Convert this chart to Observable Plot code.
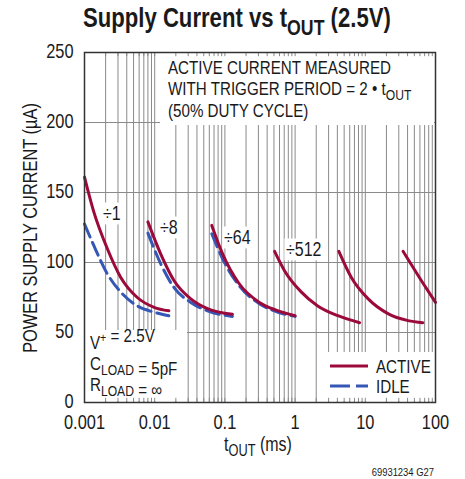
<!DOCTYPE html>
<html><head><meta charset="utf-8">
<script src="https://cdn.jsdelivr.net/npm/d3@7"></script>
<script src="https://cdn.jsdelivr.net/npm/@observablehq/plot@0.6"></script>
<style>body{margin:0;background:#fff} svg{display:block}</style>
</head><body><div id="chart"></div>
<script>
const FONT = '"Liberation Sans", Arial, Helvetica, sans-serif';
const SQ = 0.82; // horizontal squeeze to imitate a narrow face

// tick values / labels
const xTicks = [0.001, 0.01, 0.1, 1, 10, 100];
const xTickLabels = ["0.001", "0.01", "0.1", "1", "10", "100"];
const yTicks = [0, 50, 100, 150, 200, 250];
const yGrid = [50, 100, 150, 200];

// ÷1
const d1T = [0.001, 0.00136, 0.00211, 0.00327, 0.00565, 0.0098, 0.0159];
const d1Active = [161, 136, 110, 89.5, 75, 68, 65.5];
const d1Idle = [127.5, 112, 92, 79, 69, 64.5, 62];
// ÷8
const d8T = [0.008, 0.0122, 0.0189, 0.0327, 0.0565, 0.128];
const d8Active = [129, 106, 87, 74, 67, 63];
const d8Idle = [121, 99, 82, 71.5, 65.5, 61.5];
// ÷64
const d64T = [0.065, 0.093, 0.159, 0.31, 0.535, 1.0];
const d64Active = [126.5, 106, 85, 71.5, 66, 62];
const d64Idle = [120.5, 102.5, 83.5, 70.5, 65, 61.5];
// ÷512
const d512T = [0.51, 0.71, 1.22, 2.1, 4.07, 8.3];
const d512Active = [108, 94, 79, 69, 62, 57];
// ÷4096
const d4096T = [4.2, 6.3, 11, 21, 40.6, 66];
const d4096Active = [108, 89.5, 74, 63.5, 58.5, 57];
// ÷32768
const d32768T = [34.5, 63, 100];
const d32768Active = [108, 87, 71.5];

const ACTIVE = "#9c0a3b", IDLE = "#3557b5", GRID = "#8a8a8a";

function rows(ts, vs, seg) { return ts.map((t, k) => ({t, i: vs[k], seg})); }
const activeRows = [
  ...rows(d1T, d1Active, "1"), ...rows(d8T, d8Active, "8"), ...rows(d64T, d64Active, "64"),
  ...rows(d512T, d512Active, "512"), ...rows(d4096T, d4096Active, "4096"), ...rows(d32768T, d32768Active, "32768")
];
const idleRows = [...rows(d1T, d1Idle, "1"), ...rows(d8T, d8Idle, "8"), ...rows(d64T, d64Idle, "64")];

const minor = [];
for (let e = -3; e < 2; e++) for (let m = 1; m < 10; m++) minor.push(+(m * 10 ** e).toPrecision(3));
minor.push(100);

const xLabelOf = d => xTickLabels[xTicks.findIndex(v => Math.abs(Math.log10(v) - Math.log10(d)) < 1e-6)];

const plot = Plot.plot({
  width: 465, height: 479,
  marginLeft: 84, marginRight: 30, marginTop: 52, marginBottom: 77,
  style: {fontFamily: FONT, fontSize: "20px", color: "#1a1a1a", background: "#fff"},
  x: {type: "log", domain: [0.001, 100]},
  y: {domain: [0, 250]},
  marks: [
    Plot.ruleX(minor, {stroke: GRID, strokeWidth: 1, strokeOpacity: 1}),
    Plot.ruleY(yGrid, {stroke: GRID, strokeWidth: 1, strokeOpacity: 1}),
    Plot.line(idleRows, {x: "t", y: "i", z: "seg", stroke: IDLE, strokeWidth: 3, strokeDasharray: "14,6", curve: "monotone-x"}),
    Plot.line(activeRows, {x: "t", y: "i", z: "seg", stroke: ACTIVE, strokeWidth: 3, curve: "monotone-x"}),
    Plot.ruleX(minor, {y1: 0, y2: 3, stroke: GRID, strokeWidth: 1, strokeOpacity: 1}),
    Plot.ruleX(minor, {y1: 247, y2: 250, stroke: GRID, strokeWidth: 1, strokeOpacity: 1}),
    Plot.frame({stroke: "#333", strokeWidth: 1.5}),
    Plot.axisX(xTicks, {tickSize: 0, tickPadding: 12, tickFormat: xLabelOf, label: null, fontSize: 20}),
    Plot.axisY(yTicks, {tickSize: 0, tickPadding: 11, label: null, fontSize: 20, dy: -1})
  ]
});
document.getElementById("chart").appendChild(plot);

// squeeze axis tick labels
plot.querySelectorAll('g[aria-label$="tick label"] text').forEach(n => {
  n.setAttribute("transform", (n.getAttribute("transform") || "") + ` scale(${SQ},1)`);
});

const svg = d3.select(plot);
const xs = plot.scale("x"), ys = plot.scale("y");
const X0 = xs.range[0], X1 = xs.range[1], Y0 = ys.range[0], Y1 = ys.range[1];

// white boxes (under curves, above grid)
const firstLine = plot.querySelector('g[aria-label="line"]');
const boxG = d3.select(plot.insertBefore(document.createElementNS("http://www.w3.org/2000/svg", "g"), firstLine));
const boxes = [
  [160, Y1 + 1, X1 - 1, 125],
  [X0 + 1, 330, 187, Y0 - 1],
  [328, 352, X1 - 1, Y0 - 1]
];
boxes.forEach(([a, b, c, d]) => boxG.append("rect").attr("x", a).attr("y", b).attr("width", c - a).attr("height", d - b).attr("fill", "#fff"));

const over = svg.append("g").attr("font-family", FONT).attr("fill", "#1a1a1a");

function rich(g, x, y, parts, size, anchor = "start", weight = "normal", extra = "") {
  const t = g.append("text").attr("transform", `translate(${x},${y})${extra} scale(${SQ},1)`)
    .attr("font-size", size).attr("text-anchor", anchor).attr("font-weight", weight);
  let shift = 0;
  parts.forEach(p => {
    const [s, kind] = Array.isArray(p) ? p : [p, ""];
    const ts = t.append("tspan").text(s);
    let target = 0, fs = size;
    if (kind === "sub") { target = size * 0.28; fs = size * 0.8; }
    if (kind === "sup") { target = -size * 0.4; fs = size * 0.7; }
    ts.attr("dy", target - shift).attr("font-size", fs);
    shift = target;
  });
  return t;
}

// title
rich(over, 83, 27, ["Supply Current vs t", ["OUT", "sub"], " (2.5V)"], 27, "start", "bold");
// x label
rich(over, 258, 451, ["t", ["OUT", "sub"], " (ms)"], 19.5, "middle");
// y label
rich(over, 37, 228, ["POWER SUPPLY CURRENT (µA)"], 20, "middle", "normal", " rotate(-90)");
// footer
rich(over, 434, 476, ["69931234 G27"], 11.5, "end");

// top note
rich(over, 168, 74, ["ACTIVE CURRENT MEASURED"], 18.5);
rich(over, 168, 95, ["WITH TRIGGER PERIOD = 2 • t", ["OUT", "sub"]], 18.5);
rich(over, 168, 117, ["(50% DUTY CYCLE)"], 18.5);
// conditions
rich(over, 90, 349, ["V", ["+", "sup"], ["", ""], " = 2.5V"], 18.5);
rich(over, 90, 370, ["C", ["LOAD", "sub"], ["", ""], " = 5pF"], 18.5);
rich(over, 90, 391, ["R", ["LOAD", "sub"], ["", ""], " = ∞"], 18.5);

// divider labels with white backgrounds
const divLabels = [["÷1", 103, 220], ["÷8", 160, 234], ["÷64", 224, 244], ["÷512", 286, 256]];
divLabels.forEach(([s, x, y]) => {
  const t = rich(over, x, y, [s], 19.5);
  const b = t.node().getBBox();
  boxG.append("rect").attr("transform", t.attr("transform"))
    .attr("x", b.x - 2).attr("y", b.y).attr("width", b.width + 4).attr("height", b.height).attr("fill", "#fff");
});

// legend
const lg = svg.append("g");
lg.append("line").attr("x1", 330).attr("x2", 368).attr("y1", 366).attr("y2", 366).attr("stroke", ACTIVE).attr("stroke-width", 3);
lg.append("line").attr("x1", 330).attr("x2", 368).attr("y1", 386).attr("y2", 386).attr("stroke", IDLE).attr("stroke-width", 3).attr("stroke-dasharray", "20,6");
rich(over, 376, 372.5, ["ACTIVE"], 18.5);
rich(over, 376, 393, ["IDLE"], 18.5);
</script></body></html>
